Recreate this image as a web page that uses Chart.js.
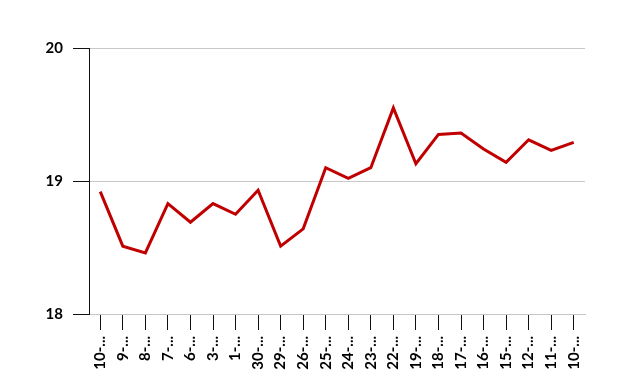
<!DOCTYPE html>
<html>
<head>
<meta charset="utf-8">
<script src="https://cdn.jsdelivr.net/npm/chart.js@4"></script>
<style>
  html, body { margin: 0; padding: 0; background: #fff; }
  #wrap { width: 619px; height: 387px; }
</style>
</head>
<body>
<div id="wrap"><canvas id="lineChart" width="619" height="387"></canvas></div>
<script>
const categories = ["10-...", "9-...", "8-...", "7-...", "6-...", "3-...", "1-...", "30-...", "29-...", "26-...", "25-...",
  "24-...", "23-...", "22-...", "19-...", "18-...", "17-...", "16-...", "15-...", "12-...", "11-...", "10-..."];
const values = [18.92, 18.51, 18.46, 18.83, 18.69, 18.83, 18.75, 18.93, 18.51, 18.64, 19.10,
  19.02, 19.10, 19.55, 19.13, 19.35, 19.36, 19.24, 19.14, 19.31, 19.23, 19.29];
const yTicks = [18, 19, 20];

const ctx = document.getElementById("lineChart");

new Chart(ctx, {
  type: "line",
  data: {
    labels: categories,
    datasets: [
      {
        label: "Série",
        data: values,
        borderColor: "#c00000",
        borderWidth: 3,
        pointRadius: 0,
        tension: 0,
        fill: false,
      },
    ],
  },
  options: {
    responsive: false,
    animation: false,
    layout: { padding: { left: 0, right: 34, top: 48, bottom: 0 } },
    plugins: {
      legend: { display: false },
      tooltip: { enabled: false },
    },
    scales: {
      x: {
        offset: true,
        afterFit: function (scale) { scale.height = 73; },
        border: { color: "#c8c8c8", width: 1 },
        grid: {
          drawOnChartArea: false,
          drawTicks: true,
          tickLength: 16,
          tickColor: "#111",
          offset: false,
        },
        ticks: {
          maxRotation: 90,
          minRotation: 90,
          autoSkip: false,
          padding: 6,
          color: "#000",
          font: { family: "Lato", size: 15, weight: "bold" },
        },
      },
      y: {
        min: 18,
        max: 20,
        afterFit: function (scale) { scale.width = 89; },
        afterBuildTicks: function (scale) {
          scale.ticks = yTicks.map(function (v) { return { value: v }; });
        },
        border: { color: "#111", width: 1 },
        grid: {
          color: "#c8c8c8",
          tickColor: "#111",
          tickLength: 16,
        },
        ticks: {
          padding: 10,
          color: "#000",
          font: { family: "Lato", size: 15, weight: "bold" },
        },
      },
    },
  },
});
</script>
</body>
</html>
